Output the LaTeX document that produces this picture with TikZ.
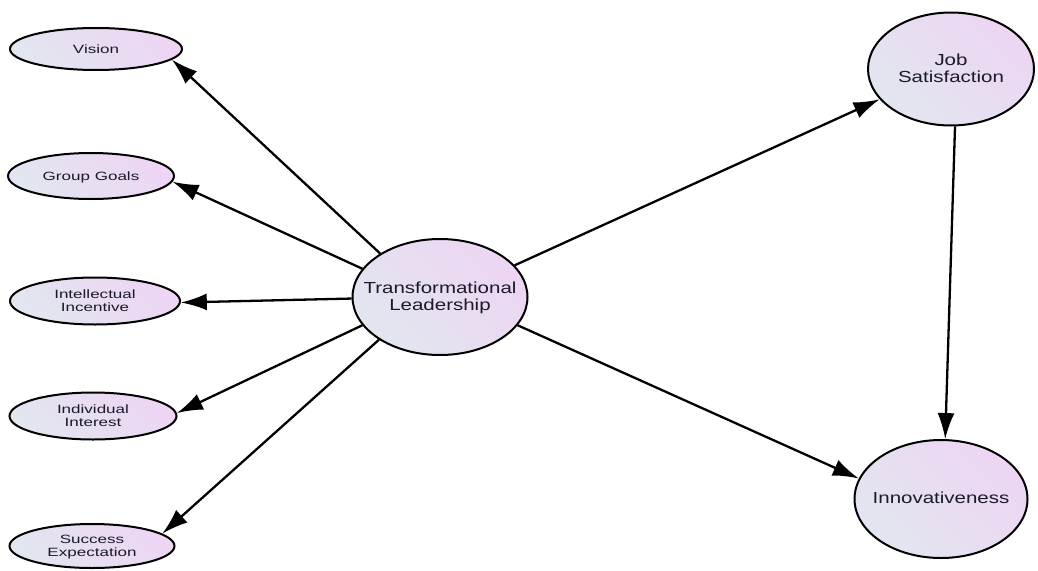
\documentclass[tikz,border=0pt]{standalone}
\usepackage{fontspec}
\usepackage{graphicx}
\setmainfont{Liberation Sans}
\usetikzlibrary{arrows.meta,shapes.geometric}
\definecolor{fillL}{HTML}{E2E6EF}
\definecolor{fillR}{HTML}{EDD5F3}
\definecolor{txt}{HTML}{1A1A2A}
\newcommand{\smalltxt}[1]{\scalebox{1.42}[1]{\fontsize{12}{13}\selectfont\begin{tabular}{@{}c@{}}#1\end{tabular}}}
\newcommand{\bigtxt}[1]{\scalebox{1.28}[1]{\fontsize{16}{17}\selectfont\begin{tabular}{@{}c@{}}#1\end{tabular}}}
\tikzset{
  latent/.style={ellipse, draw=black, line width=2pt, left color=fillL, right color=fillR, shading angle=135, inner sep=0pt},
  lbl/.style={text=txt, inner sep=0pt, yshift=-1.5pt},
  arr/.style={line width=2.3pt, -{Latex[length=26pt,width=17pt]}}
}
\begin{document}
\begin{tikzpicture}[x=1pt,y=-1pt]
\useasboundingbox (0,0) rectangle (1038,570);
\node[latent, minimum width=172pt, minimum height=42pt, label={[lbl]center:\smalltxt{Vision}}] (vis) at (96,49) {};
\node[latent, minimum width=166pt, minimum height=46pt, label={[lbl]center:\smalltxt{Group Goals}}] (gg) at (91,176) {};
\node[latent, minimum width=170pt, minimum height=47pt, label={[lbl]center:\smalltxt{Intellectual\\Incentive}}] (ii) at (95,301) {};
\node[latent, minimum width=167pt, minimum height=47pt, label={[lbl]center:\smalltxt{Individual\\Interest}}] (ind) at (93,416) {};
\node[latent, minimum width=165pt, minimum height=44pt, label={[lbl]center:\smalltxt{Success\\Expectation}}] (se) at (92,546) {};
\node[latent, minimum width=175pt, minimum height=116pt, label={[lbl]center:\bigtxt{Transformational\\Leadership}}] (tl) at (440,297) {};
\node[latent, minimum width=166pt, minimum height=113pt, label={[lbl]center:\bigtxt{Job\\Satisfaction}}] (js) at (951,69) {};
\node[latent, minimum width=173pt, minimum height=118pt, label={[lbl]center:\bigtxt{Innovativeness}}] (inn) at (941,499) {};
\draw[arr] (tl.144.6) -- (vis.-8.2);
\draw[arr] (tl.160.1) -- (gg.-4.2);
\draw[arr] (tl.181.3) -- (ii.-1.4);
\draw[arr] (tl.200.4) -- (ind.2.1);
\draw[arr] (tl.215.5) -- (se.10.1);
\draw[arr] (tl.23.7) -- (js.-157.2);
\draw[arr] (tl.-20.6) -- (inn.166.8);
\draw[arr] (js.-86) -- (inn.86);
\end{tikzpicture}
\end{document}
